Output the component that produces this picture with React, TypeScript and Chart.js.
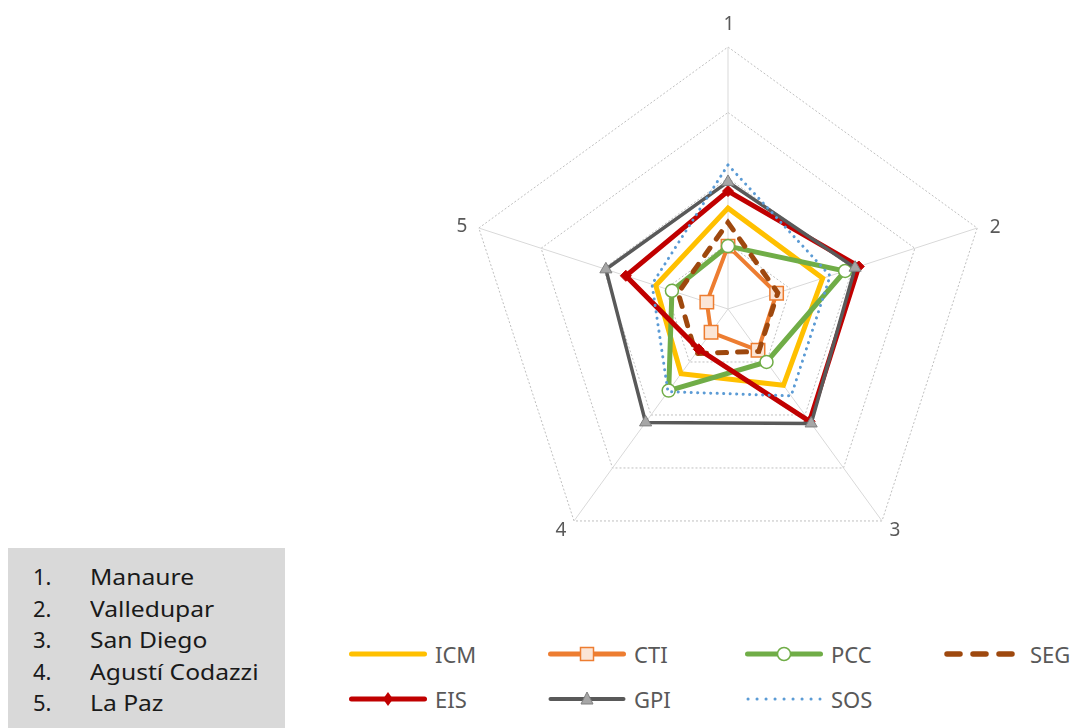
import React, { useEffect, useRef } from 'react';
import { Chart, registerables } from 'chart.js';

Chart.register(...registerables);

// ---------- data ----------
const axisLabels = ['1', '2', '3', '4', '5'];
const municipalities = ['Manaure', 'Valledupar', 'San Diego', 'Agustí Codazzi', 'La Paz'];
const seriesNames = ['ICM', 'CTI', 'PCC', 'SEG', 'EIS', 'GPI', 'SOS'];

const icmValues = [0.385, 0.38, 0.36, 0.305, 0.29];
const ctiValues = [0.24, 0.195, 0.195, 0.11, 0.085];
const pccValues = [0.24, 0.47, 0.25, 0.385, 0.225];
const segValues = [0.33, 0.2, 0.2, 0.21, 0.2];
const eisValues = [0.45, 0.525, 0.53, 0.19, 0.41];
const gpiValues = [0.485, 0.51, 0.54, 0.535, 0.49];
const sosValues = [0.55, 0.41, 0.41, 0.39, 0.305];

const scaleMin = 0;
const scaleMax = 1;
const scaleStep = 0.25;

// ---------- styles ----------
const FONT = '"Noto Sans", "Open Sans", sans-serif';
const labelOffsets = [
  [1, -22],
  [18, 0],
  [13, 10],
  [-13, 10],
  [-17, -1],
];

const pointLabelPlugin = {
  id: 'customPointLabels',
  afterDraw(chart: any) {
    const s = chart.scales.r;
    const ctx = chart.ctx;
    ctx.save();
    ctx.font = `19px ${FONT}`;
    ctx.fillStyle = '#595959';
    ctx.textAlign = 'center';
    ctx.textBaseline = 'middle';
    axisLabels.forEach((lab, i) => {
      const p = s.getPointPosition(i, s.drawingArea);
      ctx.fillText(lab, p.x + labelOffsets[i][0], p.y + labelOffsets[i][1]);
    });
    ctx.restore();
  },
};

function LegendSymbol({ kind }: { kind: string }) {
  const w = 78;
  const h = 18;
  const cy = h / 2;
  const cx = w / 2;
  switch (kind) {
    case 'ICM':
      return (
        <svg width={w} height={h}>
          <line x1={2.5} y1={cy} x2={w - 2.5} y2={cy} stroke="#FFC000" strokeWidth={5} strokeLinecap="round" />
        </svg>
      );
    case 'CTI':
      return (
        <svg width={w} height={h}>
          <line x1={2.5} y1={cy} x2={w - 2.5} y2={cy} stroke="#ED7D31" strokeWidth={5} strokeLinecap="round" />
          <rect x={cx - 6.5} y={cy - 6.5} width={13} height={13} fill="#FBE5D6" stroke="#ED7D31" strokeWidth={1.5} />
        </svg>
      );
    case 'PCC':
      return (
        <svg width={w} height={h}>
          <line x1={2.5} y1={cy} x2={w - 2.5} y2={cy} stroke="#70AD47" strokeWidth={5} strokeLinecap="round" />
          <circle cx={cx} cy={cy} r={6.5} fill="#ffffff" stroke="#70AD47" strokeWidth={1.5} />
        </svg>
      );
    case 'SEG':
      return (
        <svg width={w} height={h}>
          <line x1={3} y1={cy} x2={74} y2={cy} stroke="#9E480E" strokeWidth={5.5} strokeLinecap="round" strokeDasharray="13 13" />
        </svg>
      );
    case 'EIS':
      return (
        <svg width={w} height={h}>
          <line x1={2.5} y1={cy} x2={w - 2.5} y2={cy} stroke="#C00000" strokeWidth={5} strokeLinecap="round" />
          <polygon points={`${cx},${cy - 7} ${cx + 5},${cy} ${cx},${cy + 7} ${cx - 5},${cy}`} fill="#C00000" />
        </svg>
      );
    case 'GPI':
      return (
        <svg width={w} height={h}>
          <line x1={2.5} y1={cy} x2={w - 2.5} y2={cy} stroke="#595959" strokeWidth={4} strokeLinecap="round" />
          <polygon points={`${cx},${cy - 7} ${cx + 6},${cy + 5} ${cx - 6},${cy + 5}`} fill="#A6A6A6" stroke="#7F7F7F" strokeWidth={1} />
        </svg>
      );
    case 'SOS':
      return (
        <svg width={w} height={h}>
          <line x1={3} y1={cy} x2={w - 3} y2={cy} stroke="#5B9BD5" strokeWidth={3} strokeLinecap="round" strokeDasharray="0.1 8.9" />
        </svg>
      );
  }
  return null;
}

const legendCols = [349, 548, 745, 944];
const legendRows = [654, 699];

export default function App() {
  const canvasRef = useRef<HTMLCanvasElement | null>(null);

  useEffect(() => {
    if (!canvasRef.current) return;
    const common = {
      borderJoinStyle: 'miter' as const,
      tension: 0,
      fill: false,
    };
    const chart = new Chart(canvasRef.current, {
      type: 'radar',
      data: {
        labels: axisLabels,
        datasets: [
          {
            ...common,
            label: seriesNames[0],
            data: icmValues,
            borderColor: '#FFC000',
            borderWidth: 5,
            pointRadius: 0,
            order: 7,
          },
          {
            ...common,
            label: seriesNames[1],
            data: ctiValues,
            borderColor: '#ED7D31',
            borderWidth: 4,
            pointStyle: 'rect',
            pointRadius: 9.5,
            pointBackgroundColor: '#FBE5D6',
            pointBorderColor: '#ED7D31',
            pointBorderWidth: 1.5,
            order: 6,
          },
          {
            ...common,
            label: seriesNames[2],
            data: pccValues,
            borderColor: '#70AD47',
            borderWidth: 5,
            pointStyle: 'circle',
            pointRadius: 6.5,
            pointBackgroundColor: '#ffffff',
            pointBorderColor: '#70AD47',
            pointBorderWidth: 1.5,
            order: 5,
          },
          {
            ...common,
            label: seriesNames[3],
            data: segValues,
            borderColor: '#9E480E',
            borderWidth: 5,
            borderDash: [9, 11],
            borderCapStyle: 'round',
            pointRadius: 0,
            order: 4,
          },
          {
            ...common,
            label: seriesNames[4],
            data: eisValues,
            borderColor: '#C00000',
            borderWidth: 5,
            pointStyle: 'rectRot',
            pointRadius: 5.5,
            pointBackgroundColor: '#C00000',
            pointBorderColor: '#C00000',
            pointBorderWidth: 1,
            order: 3,
          },
          {
            ...common,
            label: seriesNames[5],
            data: gpiValues,
            borderColor: '#595959',
            borderWidth: 3.5,
            pointStyle: 'triangle',
            pointRadius: 7,
            pointBackgroundColor: '#A6A6A6',
            pointBorderColor: '#7F7F7F',
            pointBorderWidth: 1,
            order: 2,
          },
          {
            ...common,
            label: seriesNames[6],
            data: sosValues,
            borderColor: '#5B9BD5',
            borderWidth: 3,
            borderDash: [0.1, 6.4],
            borderCapStyle: 'round',
            pointRadius: 0,
            order: 1,
          },
        ],
      },
      options: {
        responsive: false,
        animation: false,
        layout: { padding: { left: 88, right: 88, top: 47, bottom: 29 } },
        plugins: {
          legend: { display: false },
          tooltip: { enabled: false },
        },
        elements: { point: { hoverRadius: 0 } },
        scales: {
          r: {
            min: scaleMin,
            max: scaleMax,
            ticks: { display: false, stepSize: scaleStep },
            pointLabels: { display: false },
            angleLines: { color: '#D9D9D9', lineWidth: 1 },
            grid: { color: '#BFBFBF', lineWidth: 1 },
            border: { dash: [2, 2] },
          },
        },
      },
      plugins: [pointLabelPlugin],
    } as any);
    return () => chart.destroy();
  }, []);

  return (
    <div style={{ position: 'absolute', left: 0, top: 0, width: 1085, height: 728, background: '#fff', overflow: 'hidden' }}>
      <canvas
        ref={canvasRef}
        width={700}
        height={600}
        style={{ position: 'absolute', left: 378, top: 0, width: 700, height: 600, display: 'block' }}
      />
      <div
        style={{
          position: 'absolute',
          left: 8,
          top: 548,
          width: 277,
          height: 180,
          background: '#D9D9D9',
        }}
      >
        {municipalities.map((m, i) => (
          <div
            key={m}
            style={{
              position: 'absolute',
              left: 0,
              top: 13 + i * 31.6,
              height: 31,
              lineHeight: '31px',
              fontFamily: FONT,
              fontSize: 22,
              color: '#1a1a1a',
              whiteSpace: 'nowrap',
            }}
          >
            <span style={{ position: 'absolute', left: 25 }}>{`${i + 1}.`}</span>
            <span
              style={{
                position: 'absolute',
                left: 82,
                display: 'inline-block',
                transform: 'scaleX(1.12)',
                transformOrigin: 'left center',
              }}
            >
              {m}
            </span>
          </div>
        ))}
      </div>
      {seriesNames.map((name, i) => {
        const col = i < 4 ? i : i - 4;
        const row = i < 4 ? 0 : 1;
        return (
          <div
            key={name}
            style={{
              position: 'absolute',
              left: legendCols[col],
              top: legendRows[row] - 14,
              height: 28,
              display: 'flex',
              alignItems: 'center',
              whiteSpace: 'nowrap',
            }}
          >
            <LegendSymbol kind={name} />
            <span
              style={{
                marginLeft: 8,
                fontFamily: FONT,
                fontSize: 22,
                color: '#595959',
                lineHeight: '28px',
              }}
            >
              {name}
            </span>
          </div>
        );
      })}
    </div>
  );
}
